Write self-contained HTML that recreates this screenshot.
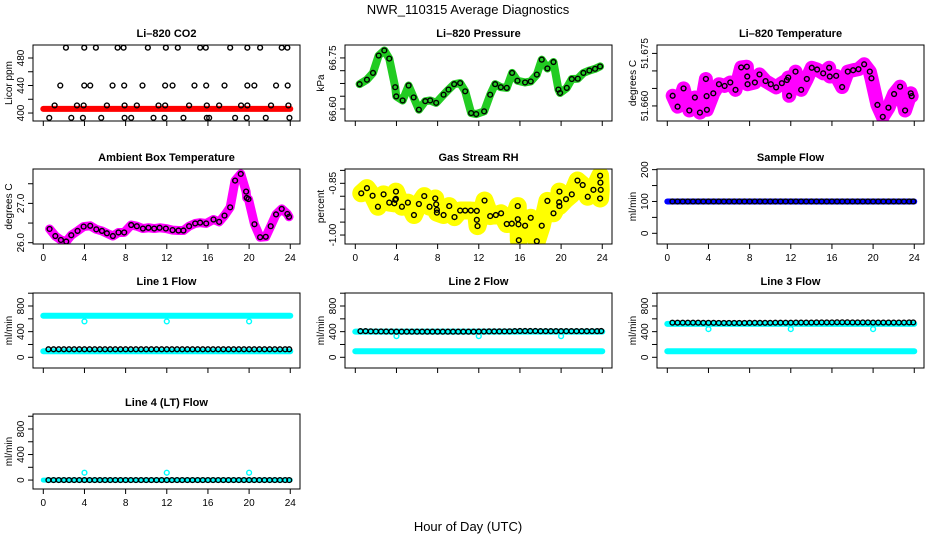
<!DOCTYPE html>
<html><head><meta charset="utf-8"><style>
html,body{margin:0;padding:0;background:#fff;}
svg{display:block;font-family:"Liberation Sans",sans-serif;}
</style></head><body>
<svg id="chart" width="936" height="540" viewBox="0 0 936 540" xmlns="http://www.w3.org/2000/svg">
<text x="468" y="14" text-anchor="middle" font-size="13">NWR_110315  Average Diagnostics</text>
<text x="468" y="531" text-anchor="middle" font-size="13">Hour of Day (UTC)</text>
</svg>
<script>
// ---- data ----
const xTicks=[0,4,8,12,16,20,24];
const co2Hours=[2.2,3.98,5.11,7.22,7.8,10.16,11.91,13.07,15.24,15.79,18.16,19.83,21.07,23.17,23.72,
1.65,3.98,4.56,6.73,7.86,9.64,11.84,12.56,14.69,15.83,17.61,19.83,20.51,22.62,23.75,
1.10,3.27,3.92,6.18,7.9,9.09,11.2,11.84,14.17,15.89,17.09,19.22,19.83,22.13,23.82,
0.58,2.72,3.85,5.63,7.9,8.54,10.71,11.78,13.62,15.89,16.12,18.64,19.77,21.62,23.92];
const co2Values=[495,495,495,495,495,495,495,495,495,495,495,495,495,495,495,
440,440,440,440,440,440,440,440,440,440,440,440,440,440,440,
411,411,411,411,411,411,411,411,411,411,411,411,411,411,411,
393,393,393,393,393,393,393,393,393,393,393,393,393,393,393];
const co2BandHours=[0,24];
const co2BandValues=[406,406];
const presHours=[0.42,1.13,1.72,2.27,2.82,3.30,3.88,3.98,4.6,5.18,5.67,6.18,6.8,7.28,7.86,8.58,9.06,9.61,10.19,10.68,11.26,11.75,12.52,13.11,13.59,14.14,14.72,15.24,15.76,16.5,17.05,17.64,18.12,18.67,19.26,19.74,19.9,20.55,21.04,21.62,22.17,22.75,23.3,23.79];
const presValues=[66.673,66.686,66.706,66.757,66.772,66.748,66.664,66.637,66.625,66.669,66.634,66.598,66.623,66.625,66.618,66.642,66.657,66.673,66.676,66.652,66.588,66.585,66.593,66.642,66.673,66.664,66.662,66.706,66.683,66.678,66.681,66.701,66.745,66.719,66.738,66.657,66.647,66.662,66.688,66.689,66.706,66.713,66.718,66.725];
const ltHours=[0.52,1.0,1.58,2.14,2.68,3.17,3.75,3.82,3.85,4.47,5.02,5.57,6.12,6.63,7.18,7.73,7.77,7.8,8.51,8.96,9.55,10.06,10.58,11.13,11.62,11.75,11.84,12.46,13.01,13.56,14.04,14.56,15.15,15.73,15.79,16.41,16.99,17.54,18.06,18.58,19.13,19.68,19.84,20.42,20.94,21.49,22.04,22.62,23.11,23.66,23.75];
const ltValues=[51.6629,51.6598,51.6650,51.6587,51.6624,51.6581,51.6677,51.6628,51.6589,51.6636,51.6662,51.6657,51.6667,51.6646,51.6710,51.6712,51.6684,51.6662,51.6667,51.6690,51.6671,51.6662,51.6653,51.6665,51.6674,51.6681,51.6629,51.6698,51.6646,51.6677,51.6709,51.6704,51.6693,51.6709,51.6684,51.6686,51.6654,51.6698,51.6702,51.6705,51.6719,51.6698,51.6679,51.6603,51.6569,51.6595,51.6634,51.6655,51.6587,51.6636,51.6628];
const ambHours=[0.61,1.17,1.71,2.23,2.72,3.33,3.92,4.56,5.15,5.70,6.18,6.76,7.31,7.86,8.54,9.09,9.68,10.22,10.78,11.30,11.91,12.56,13.14,13.62,14.17,14.76,15.24,15.83,16.54,17.09,17.61,18.16,18.64,19.19,19.71,19.77,19.94,20.52,21.07,21.62,22.10,22.62,23.17,23.72,23.88];
const ambValues=[26.35,26.17,26.07,26.03,26.19,26.30,26.41,26.43,26.34,26.30,26.24,26.17,26.26,26.26,26.45,26.42,26.36,26.38,26.36,26.38,26.36,26.32,26.31,26.31,26.42,26.49,26.51,26.49,26.59,26.53,26.69,26.90,27.58,27.75,27.30,27.14,27.11,26.47,26.14,26.15,26.42,26.72,26.86,26.73,26.66];
const rhHours=[0.58,1.13,1.68,2.2,2.75,3.30,3.79,3.88,3.95,3.95,4.53,5.11,5.70,6.18,6.70,7.22,7.77,7.86,7.93,7.93,8.58,9.13,9.64,10.19,10.68,11.23,11.81,11.81,11.88,12.56,13.11,13.66,14.17,14.72,15.21,15.79,15.79,15.86,15.89,16.5,17.05,17.64,18.12,18.67,19.26,19.81,19.84,19.84,20.48,21.04,21.59,22.10,22.59,23.14,23.79,23.82,23.85,23.79];
const rhValues=[-0.879,-0.864,-0.886,-0.918,-0.882,-0.906,-0.908,-0.898,-0.895,-0.874,-0.918,-0.906,-0.942,-0.910,-0.887,-0.918,-0.894,-0.911,-0.927,-0.935,-0.942,-0.916,-0.948,-0.929,-0.929,-0.929,-0.930,-0.956,-0.974,-0.900,-0.945,-0.942,-0.937,-0.968,-0.967,-0.916,-0.954,-0.969,-1.015,-0.973,-0.950,-1.018,-0.973,-0.901,-0.937,-0.905,-0.874,-0.916,-0.896,-0.882,-0.842,-0.855,-0.889,-0.869,-0.828,-0.848,-0.869,-0.894];
const flowHours=[0.5,1,1.5,2,2.5,3,3.5,4,4.5,5,5.5,6,6.5,7,7.5,8,8.5,9,9.5,10,10.5,11,11.5,12,12.5,13,13.5,14,14.5,15,15.5,16,16.5,17,17.5,18,18.5,19,19.5,20,20.5,21,21.5,22,22.5,23,23.5,23.9];
const sampleBlack=[100,100,100,100,100,100,100,100,100,100,100,100,100,100,100,100,100,100,100,100,100,100,100,100,100,100,100,100,100,100,100,100,100,100,100,100,100,100,100,100,100,100,100,100,100,100,100,100];
const line1Black=[125,125,125,125,125,125,125,125,125,125,125,125,125,125,125,125,125,125,125,125,125,125,125,125,125,125,125,125,125,125,125,125,125,125,125,125,125,125,125,125,125,125,125,125,125,125,125,125];
const line2Black=[408,408,405,403,403,402,402,400,400,400,400,400,400,400,400,400,400,400,400,400,400,400,400,402,402,404,404,404,405,405,408,410,410,410,410,408,408,408,408,408,408,408,408,408,408,408,408,410];
const line3Black=[540,540,540,540,540,540,538,538,538,536,536,536,536,536,536,538,538,538,538,538,540,540,540,540,542,542,542,542,544,544,544,544,546,546,546,544,544,544,544,542,542,542,542,542,542,542,544,544];
const line4Black=[0,0,0,0,0,0,0,0,0,0,0,0,0,0,0,0,0,0,0,0,0,0,0,0,0,0,0,0,0,0,0,0,0,0,0,0,0,0,0,0,0,0,0,0,0,0,0,0];
const bandHours=[0,24];
const sampleBand=[100,100];
const line1CyanHigh=[648,648];
const line1CyanLow=[94,94];
const line2CyanHigh=[400,400];
const line2CyanLow=[94,94];
const line3CyanHigh=[522,522];
const line3CyanLow=[94,94];
const line4Cyan=[0,0];
const dipHours=[4,12,20];
const line1Dips=[560,560,560];
const line2Dips=[330,330,330];
const line3Dips=[440,440,440];
const line4Dips=[115,115,115];

// ---- drawing ----
const NS='http://www.w3.org/2000/svg';
const svg=document.getElementById('chart');
function el(tag,attrs,parent){const e=document.createElementNS(NS,tag);for(const k in attrs)e.setAttribute(k,attrs[k]);(parent||svg).appendChild(e);return e;}

function makePanel(cfg){
  const g=el('g',{});
  
  
  const L=cfg.col+33,R=L+267,T=cfg.top,B=cfg.bottom;
  const xs=h=>L+10.3+h*10.29;
  const ys=v=>B-(v-cfg.ymin)/(cfg.ymax-cfg.ymin)*(B-T);
  const t=el('text',{x:(L+R)/2,y:T-8,'text-anchor':'middle','font-size':11,'font-weight':'bold'},g);
  t.textContent=cfg.title;
  
  
  const yl=el('text',{transform:`translate(${cfg.col+12},${(T+B)/2}) rotate(-90)`,'text-anchor':'middle','font-size':10},g);
  yl.textContent=cfg.ylab;
  
  
  cfg.yticks.forEach((v,i)=>{
    const y=ys(v);
    const tk=el('line',{x1:L-5,x2:L,y1:y,y2:y,stroke:'#000','stroke-width':1},g);
    
    
    if(cfg.ylabels[i]){
      const tl=el('text',{transform:`translate(${L-9},${y}) rotate(-90)`,'text-anchor':'middle','font-size':10},g);
      tl.textContent=cfg.ylabels[i];
      
      
    }
  });
  xTicks.forEach(h=>{
    const x=xs(h);
    const tk=el('line',{x1:x,x2:x,y1:B,y2:B+5,stroke:'#000','stroke-width':1},g);
    
    
    if(cfg.xlabels){
      const tl=el('text',{x:x,y:B+17,'text-anchor':'middle','font-size':10},g);
      tl.textContent=String(h);
      
      
    }
  });
  const clipId='clip'+cfg.name;
  const cp=el('clipPath',{id:clipId},g);
  el('rect',{x:L,y:T,width:R-L,height:B-T},cp);
  const plot=el('g',{'clip-path':`url(#${clipId})`},g);
  
  
  (cfg.bands||[]).forEach(b=>{
    const pts=b.h.map((h,i)=>xs(h)+','+ys(b.v[i])).join(' ');
    const pl=el('polyline',{points:pts,fill:'none',stroke:b.color,'stroke-width':b.w,'stroke-linejoin':'round','stroke-linecap':'round'},plot);
    
    
  });
  (cfg.series||[]).forEach(s=>{
    s.h.forEach((h,i)=>{
      const c=el('circle',{cx:xs(h),cy:ys(s.v[i]),r:2.4,fill:'none',stroke:s.color,'stroke-width':1.4},plot);
      
      
    });
  });
  const box=el('rect',{x:L,y:T,width:R-L,height:B-T,fill:'none',stroke:'#000','stroke-width':1},g);
  
  
}

const flowTicks=[0,200,400,600,800,1000],flowLabels=['0','','400','','800',''];
const C1=0,C2=312,C3=624;
makePanel({name:'co2-panel',col:C1,top:45,bottom:121,ymin:388.4,ymax:498.9,yticks:[400,420,440,460,480],ylabels:['400','','440','','480'],title:'Li\u2013820 CO2',ylab:'Licor ppm',
  bands:[{name:'co2-red-band',h:co2BandHours,v:co2BandValues,color:'#ff0000',w:6}],
  series:[{name:'co2-point',h:co2Hours,v:co2Values,color:'#000'}]});
makePanel({name:'pressure-panel',col:C2,top:45,bottom:121,ymin:66.5647,ymax:66.788,yticks:[66.6,66.6375,66.675,66.7125,66.75],ylabels:['66.60','','','','66.75'],title:'Li\u2013820 Pressure',ylab:'kPa',
  bands:[{name:'pressure-green-band',h:presHours,v:presValues,color:'#22cc22',w:8}],
  series:[{name:'pressure-point',h:presHours,v:presValues,color:'#000'}]});
makePanel({name:'li-temp-panel',col:C3,top:45,bottom:121,ymin:51.6557,ymax:51.6774,yticks:[51.66,51.665,51.67,51.675],ylabels:['51.660','','','51.675'],title:'Li\u2013820 Temperature',ylab:'degrees C',
  bands:[{name:'li-temp-magenta-band',h:ltHours,v:ltValues,color:'#ff00ff',w:14}],
  series:[{name:'li-temp-point',h:ltHours,v:ltValues,color:'#000'}]});
makePanel({name:'ambient-panel',col:C1,top:169,bottom:244,ymin:25.967,ymax:27.875,yticks:[26,26.5,27,27.5],ylabels:['26.0','','27.0',''],title:'Ambient Box Temperature',ylab:'degrees C',xlabels:true,
  bands:[{name:'ambient-magenta-band',h:ambHours,v:ambValues,color:'#ff00ff',w:9}],
  series:[{name:'ambient-point',h:ambHours,v:ambValues,color:'#000'}]});
makePanel({name:'rh-panel',col:C2,top:169,bottom:244,ymin:-1.026,ymax:-0.8085,yticks:[-1,-0.9625,-0.925,-0.8875,-0.85,-0.8125],ylabels:['-1.00','','','','-0.85',''],title:'Gas Stream RH',ylab:'percent',xlabels:true,
  bands:[{name:'rh-yellow-band',h:rhHours,v:rhValues,color:'#ffff00',w:18}],
  series:[{name:'rh-point',h:rhHours,v:rhValues,color:'#000'}]});
makePanel({name:'sample-flow-panel',col:C3,top:169,bottom:244,ymin:-33.6,ymax:202,yticks:[0,50,100,150,200],ylabels:['0','','100','','200'],title:'Sample Flow',ylab:'ml/min',xlabels:true,
  bands:[{name:'sample-blue-band',h:bandHours,v:sampleBand,color:'#0000ff',w:6}],
  series:[{name:'sample-point',h:flowHours,v:sampleBlack,color:'#000'}]});
makePanel({name:'line1-panel',col:C1,top:293,bottom:368,ymin:-167,ymax:1003,yticks:flowTicks,ylabels:flowLabels,title:'Line 1 Flow',ylab:'ml/min',
  bands:[{name:'line1-cyan-high',h:bandHours,v:line1CyanHigh,color:'#00ffff',w:6},{name:'line1-cyan-low',h:bandHours,v:line1CyanLow,color:'#00ffff',w:6}],
  series:[{name:'line1-dip',h:dipHours,v:line1Dips,color:'#00ffff'},{name:'line1-point',h:flowHours,v:line1Black,color:'#000'}]});
makePanel({name:'line2-panel',col:C2,top:293,bottom:368,ymin:-167,ymax:1003,yticks:flowTicks,ylabels:flowLabels,title:'Line 2 Flow',ylab:'ml/min',
  bands:[{name:'line2-cyan-high',h:bandHours,v:line2CyanHigh,color:'#00ffff',w:6},{name:'line2-cyan-low',h:bandHours,v:line2CyanLow,color:'#00ffff',w:6}],
  series:[{name:'line2-dip',h:dipHours,v:line2Dips,color:'#00ffff'},{name:'line2-point',h:flowHours,v:line2Black,color:'#000'}]});
makePanel({name:'line3-panel',col:C3,top:293,bottom:368,ymin:-167,ymax:1003,yticks:flowTicks,ylabels:flowLabels,title:'Line 3 Flow',ylab:'ml/min',
  bands:[{name:'line3-cyan-high',h:bandHours,v:line3CyanHigh,color:'#00ffff',w:6},{name:'line3-cyan-low',h:bandHours,v:line3CyanLow,color:'#00ffff',w:6}],
  series:[{name:'line3-dip',h:dipHours,v:line3Dips,color:'#00ffff'},{name:'line3-point',h:flowHours,v:line3Black,color:'#000'}]});
makePanel({name:'line4-panel',col:C1,top:414,bottom:489,ymin:-140,ymax:1035,yticks:flowTicks,ylabels:flowLabels,title:'Line 4 (LT) Flow',ylab:'ml/min',xlabels:true,
  bands:[{name:'line4-cyan',h:bandHours,v:line4Cyan,color:'#00ffff',w:5}],
  series:[{name:'line4-dip',h:dipHours,v:line4Dips,color:'#00ffff'},{name:'line4-point',h:flowHours,v:line4Black,color:'#000'}]});
</script>
</body></html>
